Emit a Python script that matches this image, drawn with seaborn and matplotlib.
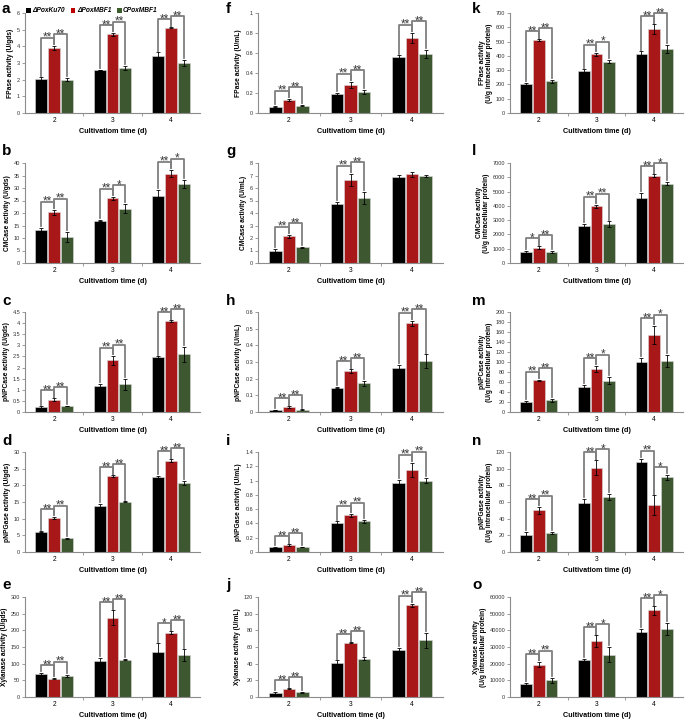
import numpy as np
import pandas as pd
import seaborn as sns
import matplotlib.pyplot as plt
from matplotlib.patches import Patch
from matplotlib.ticker import FuncFormatter, MultipleLocator

days = ['2', '3', '4']
strains = ['ΔPoxKu70', 'ΔPoxMBF1', 'CPoxMBF1']
colors = ['#000000', '#C00000', '#3B5E2B']

# rows = strains (Ku70, MBF1, CMBF1), columns = day 2, 3, 4
fp_gds = [[2.05, 2.58, 3.45], [3.92, 4.72, 5.12], [2.0, 2.7, 3.0]]
fp_gds_err = [[0.1, 0.02, 0.2], [0.12, 0.08, 0.03], [0.1, 0.12, 0.2]]
fp_gds_sig = [['**', '**'], ['**', '**'], ['**', '**']]

cmc_gds = [[13.2, 17.0, 27.0], [20.3, 26.0, 35.8], [10.5, 21.8, 31.6]]
cmc_gds_err = [[0.8, 0.2, 2.3], [1.0, 0.6, 1.5], [2.0, 1.8, 1.6]]
cmc_gds_sig = [['**', '**'], ['**', '*'], ['**', '*']]

pnpc_gds = [[0.22, 1.18, 2.47], [0.55, 2.33, 4.1], [0.27, 1.25, 2.6]]
pnpc_gds_err = [[0.03, 0.08, 0.03], [0.07, 0.2, 0.03], [0.02, 0.25, 0.33]]
pnpc_gds_sig = [['**', '**'], ['**', '**'], ['**', '**']]

pnpg_gds = [[6.1, 13.9, 22.5], [10.2, 22.7, 27.4], [4.1, 15.1, 20.8]]
pnpg_gds_err = [[0.1, 0.6, 0.4], [0.3, 0.3, 0.4], [0.1, 0.15, 0.6]]
pnpg_gds_sig = [['**', '**'], ['**', '**'], ['**', '**']]

xyl_gds = [[68, 109, 136], [55, 238, 193], [63, 112, 125]]
xyl_gds_err = [[4, 8, 25], [2, 22, 4], [3, 2, 18]]
xyl_gds_sig = [['**', '**'], ['**', '**'], ['*', '**']]

fp_ml = [[0.065, 0.19, 0.555], [0.135, 0.285, 0.755], [0.075, 0.21, 0.59]]
fp_ml_err = [[0.005, 0.01, 0.02], [0.01, 0.03, 0.05], [0.005, 0.02, 0.04]]
fp_ml_sig = [['**', '**'], ['**', '**'], ['**', '**']]

cmc_ml = [[0.95, 4.72, 6.9], [2.15, 6.65, 7.12], [1.25, 5.2, 6.97]]
cmc_ml_err = [[0.2, 0.2, 0.15], [0.12, 0.5, 0.2], [0.07, 0.5, 0.05]]
cmc_ml_sig = [['**', '**'], ['**', '**'], [None, None]]

pnpc_ml = [[0.012, 0.147, 0.265], [0.03, 0.245, 0.533], [0.014, 0.172, 0.307]]
pnpc_ml_err = [[0.002, 0.005, 0.018], [0.005, 0.012, 0.015], [0.002, 0.015, 0.04]]
pnpc_ml_sig = [['**', '**'], ['**', '**'], ['**', '**']]

pnpg_ml = [[0.065, 0.41, 0.96], [0.1, 0.515, 1.15], [0.07, 0.43, 1.0]]
pnpg_ml_err = [[0.005, 0.02, 0.05], [0.01, 0.02, 0.1], [0.005, 0.02, 0.04]]
pnpg_ml_sig = [['**', '**'], ['**', '**'], ['**', '**']]

xyl_ml = [[5, 41, 57], [10, 65, 110], [5.5, 46, 68]]
xyl_ml_err = [[1, 3, 2], [0.5, 0.5, 2], [1, 1.5, 9]]
xyl_ml_sig = [['**', '**'], ['**', '**'], ['**', '**']]

fp_prot = [[205, 295, 412], [510, 412, 585], [222, 360, 447]]
fp_prot_err = [[8, 12, 20], [5, 10, 35], [12, 12, 30]]
fp_prot_sig = [['**', '**'], ['**', '*'], ['**', '**']]

cmc_prot = [[780, 2620, 4520], [1080, 3960, 6100], [780, 2730, 5560]]
cmc_prot_err = [[80, 120, 380], [80, 120, 100], [60, 200, 130]]
cmc_prot_sig = [['*', '**'], ['**', '**'], ['**', '*']]

pnpc_prot = [[20, 50, 100], [64, 86, 154], [24, 63, 103]]
pnpc_prot_err = [[2, 5, 8], [1, 6, 18], [3, 7, 12]]
pnpc_prot_sig = [['**', '**'], ['**', '*'], ['**', '*']]

pnpg_prot = [[20, 59, 108], [50, 101, 56], [23, 66, 89.5]]
pnpg_prot_err = [[4, 5, 4], [4, 9, 12], [1, 4, 3]]
pnpg_prot_sig = [['**', '**'], ['**', '*'], ['**', '*']]

xyl_prot = [[8000, 22300, 39000], [19500, 33500, 52000], [10000, 25500, 41000]]
xyl_prot_err = [[500, 500, 2000], [1500, 3500, 2500], [1700, 4500, 3500]]
xyl_prot_sig = [['**', '**'], ['**', '*'], ['**', '*']]

plt.rcParams['font.family'] = ['Liberation Sans', 'DejaVu Sans']

W, H = 685, 719
fig = plt.figure(figsize=(W / 100, H / 100), dpi=100)

col_left = [25, 258, 510]
col_width = [175, 185, 173]
row_top = [13, 163, 312, 452, 597]
letter_top = [2, 144, 294, 434, 578]
letter_x = [2, 226, 472]
ax_h = 100

prot = '\n(U/g intracellular protein)'
panels = [
    # column 1
    ('a', 'FPase activity (U/gds)', fp_gds, fp_gds_err, fp_gds_sig, 6, 1),
    ('b', 'CMCase activity (U/gds)', cmc_gds, cmc_gds_err, cmc_gds_sig, 40, 5),
    ('c', 'pNPCase activity (U/gds)', pnpc_gds, pnpc_gds_err, pnpc_gds_sig, 4.5, 0.5),
    ('d', 'pNPGase activity (U/gds)', pnpg_gds, pnpg_gds_err, pnpg_gds_sig, 30, 5),
    ('e', 'Xylanase activity (U/gds)', xyl_gds, xyl_gds_err, xyl_gds_sig, 300, 50),
    # column 2
    ('f', 'FPase activity (U/mL)', fp_ml, fp_ml_err, fp_ml_sig, 1, 0.2),
    ('g', 'CMCase activity (U/mL)', cmc_ml, cmc_ml_err, cmc_ml_sig, 8, 1),
    ('h', 'pNPCase activity (U/mL)', pnpc_ml, pnpc_ml_err, pnpc_ml_sig, 0.6, 0.1),
    ('i', 'pNPGase activity (U/mL)', pnpg_ml, pnpg_ml_err, pnpg_ml_sig, 1.4, 0.2),
    ('j', 'Xylanase activity (U/mL)', xyl_ml, xyl_ml_err, xyl_ml_sig, 120, 20),
    # column 3
    ('k', 'FPase activity' + prot, fp_prot, fp_prot_err, fp_prot_sig, 700, 100),
    ('l', 'CMCase activity' + prot, cmc_prot, cmc_prot_err, cmc_prot_sig, 7000, 1000),
    ('m', 'pNPCase activity' + prot, pnpc_prot, pnpc_prot_err, pnpc_prot_sig, 200, 20),
    ('n', 'pNPGase activity' + prot, pnpg_prot, pnpg_prot_err, pnpg_prot_sig, 120, 20),
    ('o', 'Xylanase activity' + prot, xyl_prot, xyl_prot_err, xyl_prot_sig, 60000, 10000),
]

axis_grey = '#8c8c8c'

for idx, (letter, ylabel, vals, errs, sig, ymax, step) in enumerate(panels):
    c, r = divmod(idx, 5)
    left = col_left[c] / W
    bottom = 1 - (row_top[r] + ax_h) / H
    ax = fig.add_axes([left, bottom, col_width[c] / W, ax_h / H])

    df = pd.DataFrame({'day': days * 3,
                       'strain': np.repeat(strains, 3),
                       'value': np.ravel(vals)})
    sns.barplot(data=df, x='day', y='value', hue='strain', palette=colors,
                width=0.66, gap=0.08, edgecolor='#d9d9d9', linewidth=0.4,
                errorbar=None, legend=False, ax=ax)
    bar_groups = list(ax.containers)

    xs = np.zeros((3, 3))
    tops = np.zeros((3, 3))
    for k, cont in enumerate(bar_groups):
        for d, bar in enumerate(cont):
            x = bar.get_x() + bar.get_width() / 2
            ax.errorbar(x, vals[k][d], yerr=errs[k][d], color='black',
                        lw=0.6, capsize=1.5, capthick=0.6)
            xs[k, d] = x
            tops[k, d] = vals[k][d] + errs[k][d]

    # significance brackets (second one stepped a little above the first)
    pad = ymax * 0.04
    for d in range(3):
        prev_h = None
        for (i, j), s in zip([(0, 1), (1, 2)], sig[d]):
            if not s:
                continue
            h = max(tops[i, d], tops[j, d]) + 2 * pad
            if prev_h is not None and abs(h - prev_h) < 0.8 * pad:
                h = prev_h + 0.8 * pad
            prev_h = h
            ax.plot([xs[i, d], xs[i, d], xs[j, d], xs[j, d]],
                    [tops[i, d] + 0.4 * pad, h, h, tops[j, d] + 0.4 * pad],
                    color='#7f7f7f', lw=1.3, clip_on=False)
            ax.annotate(s, ((xs[i, d] + xs[j, d]) / 2, h), xytext=(0, -2.2),
                        textcoords='offset points', ha='center', va='baseline',
                        fontsize=8.5, color='#3a3a3a', annotation_clip=False)

    ax.set_xlim(-0.5, 2.5)
    ax.set_ylim(0, ymax)
    ax.yaxis.set_major_locator(MultipleLocator(step))
    ax.yaxis.set_major_formatter(FuncFormatter(lambda v, p: '%g' % v))
    ax.set_xticks([0.5, 1.5], minor=True)
    ax.tick_params(axis='x', which='major', length=0, labelsize=4.8, pad=3)
    ax.tick_params(axis='x', which='minor', length=2.5, width=0.6, color=axis_grey)
    ax.tick_params(axis='y', length=2, width=0.6, color=axis_grey,
                   labelsize=4, pad=1.5, labelcolor='#333333')
    for sp in ['top', 'right']:
        ax.spines[sp].set_visible(False)
    for sp in ['left', 'bottom']:
        ax.spines[sp].set_color(axis_grey)
        ax.spines[sp].set_linewidth(0.8)

    ax.set_xlabel('Cultivatiom time (d)', fontsize=5.2, fontweight='bold', labelpad=3)
    ax.set_ylabel(ylabel, fontsize=4.8, fontweight='bold', labelpad=2,
                  linespacing=1.0)

    fig.text(letter_x[c] / W, 1 - letter_top[r] / H, letter, fontsize=11,
             fontweight='bold', va='top', ha='left')

handles = [Patch(facecolor=col, label=lab) for col, lab in zip(colors, strains)]
fig.legend(handles=handles, loc='center', bbox_to_anchor=(92 / W, 1 - 11 / H),
           ncol=3, frameon=False, handlelength=0.7, handleheight=0.7,
           handletextpad=0.2, columnspacing=0.9,
           prop={'style': 'italic', 'weight': 'bold', 'size': 4.8})

fig.savefig('out.png', dpi=100)
